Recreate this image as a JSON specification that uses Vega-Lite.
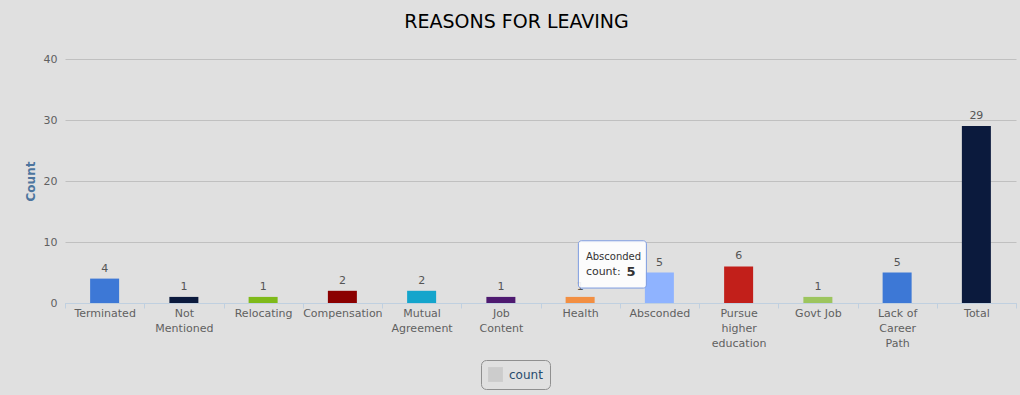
{
  "$schema": "https://vega.github.io/schema/vega-lite/v6.json",
  "width": 951,
  "height": 244,
  "autosize": {"type": "none"},
  "padding": {"left": 65, "top": 59, "right": 4, "bottom": 92},
  "background": "#e0e0e0",
  "title": {
    "text": "REASONS FOR LEAVING",
    "font": "DejaVu Sans",
    "fontSize": 19,
    "fontWeight": "normal",
    "color": "#000000",
    "anchor": "middle",
    "dx": -24,
    "offset": 21
  },
  "config": {
    "view": {"stroke": null},
    "font": "DejaVu Sans"
  },
  "datasets": {
    "main": [
      {"reason": "Terminated", "count": 4},
      {"reason": "Not Mentioned", "count": 1},
      {"reason": "Relocating", "count": 1},
      {"reason": "Compensation", "count": 2},
      {"reason": "Mutual Agreement", "count": 2},
      {"reason": "Job Content", "count": 1},
      {"reason": "Health", "count": 1},
      {"reason": "Absconded", "count": 5},
      {"reason": "Pursue higher education", "count": 6},
      {"reason": "Govt Job", "count": 1},
      {"reason": "Lack of Career Path", "count": 5},
      {"reason": "Total", "count": 29}
    ],
    "tip": [
      {"reason": "Absconded", "top": 10.2, "bottom": 2.45, "name": "Absconded", "nameY": 7.55, "lineY": 5.1, "label": "count:", "value": "5"}
    ],
    "legend": [
      {"reason": "Terminated", "series": "count", "count": 0}
    ]
  },
  "encoding": {
    "x": {
      "field": "reason",
      "type": "nominal",
      "sort": null,
      "scale": {"paddingInner": 0, "paddingOuter": 0},
      "axis": {
        "title": null,
        "labelAngle": 0,
        "labelFont": "DejaVu Sans",
        "labelFontSize": 11,
        "labelColor": "#606060",
        "labelLineHeight": 15,
        "labelPadding": -1,
        "labelExpr": "datum.label == 'Govt Job' ? datum.label : datum.label == 'Lack of Career Path' ? ['Lack of', 'Career', 'Path'] : split(datum.label, ' ')",
        "domainColor": "#c0d0e0",
        "tickColor": "#c0d0e0",
        "tickSize": 5,
        "tickBand": "extent",
        "grid": false
      }
    }
  },
  "layer": [
    {
      "data": {"name": "main"},
      "mark": {"type": "bar", "size": 29},
      "encoding": {
        "y": {
          "field": "count",
          "type": "quantitative",
          "scale": {"domain": [0, 40], "nice": false},
          "axis": {
            "values": [0, 10, 20, 30, 40],
            "title": "Count",
            "titleFont": "DejaVu Sans",
            "titleFontSize": 12,
            "titleFontWeight": "bold",
            "titleColor": "#4d759e",
            "titlePadding": 6,
            "labelFont": "DejaVu Sans",
            "labelFontSize": 11,
            "labelColor": "#606060",
            "labelPadding": 8,
            "ticks": false,
            "domain": false,
            "grid": true,
            "gridColor": "#c0c0c0",
            "gridWidth": 1
          }
        },
        "color": {
          "field": "reason",
          "type": "nominal",
          "legend": null,
          "scale": {
            "domain": ["Terminated", "Not Mentioned", "Relocating", "Compensation", "Mutual Agreement", "Job Content", "Health", "Absconded", "Pursue higher education", "Govt Job", "Lack of Career Path", "Total"],
            "range": ["#3d78d6", "#0b1a3d", "#7fba1a", "#8b0000", "#14a5cc", "#4e1a70", "#f28f43", "#8fb3ff", "#c21f1a", "#9dc55e", "#3d78d6", "#0b1a3d"]
          }
        }
      }
    },
    {
      "data": {"name": "main"},
      "mark": {"type": "text", "baseline": "bottom", "dy": -5, "fontSize": 11, "color": "#555555", "font": "DejaVu Sans"},
      "encoding": {
        "y": {"field": "count", "type": "quantitative"},
        "text": {"field": "count", "type": "quantitative"}
      }
    },
    {
      "data": {"name": "legend"},
      "mark": {"type": "point", "filled": true, "size": 0, "color": "#cccccc"},
      "encoding": {
        "y": {"field": "count", "type": "quantitative"},
        "shape": {
          "field": "series",
          "type": "nominal",
          "scale": {"range": ["square"]},
          "legend": {
            "title": null,
            "orient": "none",
            "legendX": 416,
            "legendY": 301,
            "strokeColor": "#909090",
            "cornerRadius": 5,
            "padding": 7,
            "symbolType": "square",
            "symbolSize": 220,
            "symbolFillColor": "#cccccc",
            "symbolStrokeColor": "#cccccc",
            "symbolStrokeWidth": 0,
            "symbolOpacity": 1,
            "labelColor": "#274b6d",
            "labelFontSize": 12,
            "labelFont": "DejaVu Sans",
            "labelOffset": 6
          }
        }
      }
    },
    {
      "data": {"name": "tip"},
      "mark": {"type": "bar", "size": 68, "xOffset": -47, "cornerRadius": 3, "fill": "#ffffff", "fillOpacity": 0.9, "stroke": "#7d9be0", "strokeWidth": 1},
      "encoding": {
        "y": {"field": "top", "type": "quantitative"},
        "y2": {"field": "bottom"}
      }
    },
    {
      "data": {"name": "tip"},
      "mark": {"type": "text", "align": "left", "baseline": "middle", "dx": -73.5, "fontSize": 10, "color": "#333333", "font": "DejaVu Sans"},
      "encoding": {
        "y": {"field": "nameY", "type": "quantitative"},
        "text": {"field": "name"}
      }
    },
    {
      "data": {"name": "tip"},
      "mark": {"type": "text", "align": "left", "baseline": "middle", "dx": -73.5, "fontSize": 11, "color": "#333333", "font": "DejaVu Sans"},
      "encoding": {
        "y": {"field": "lineY", "type": "quantitative"},
        "text": {"field": "label"}
      }
    },
    {
      "data": {"name": "tip"},
      "mark": {"type": "text", "align": "left", "baseline": "middle", "dx": -33, "fontSize": 13, "fontWeight": "bold", "color": "#333333", "font": "DejaVu Sans"},
      "encoding": {
        "y": {"field": "lineY", "type": "quantitative"},
        "text": {"field": "value"}
      }
    }
  ]
}
